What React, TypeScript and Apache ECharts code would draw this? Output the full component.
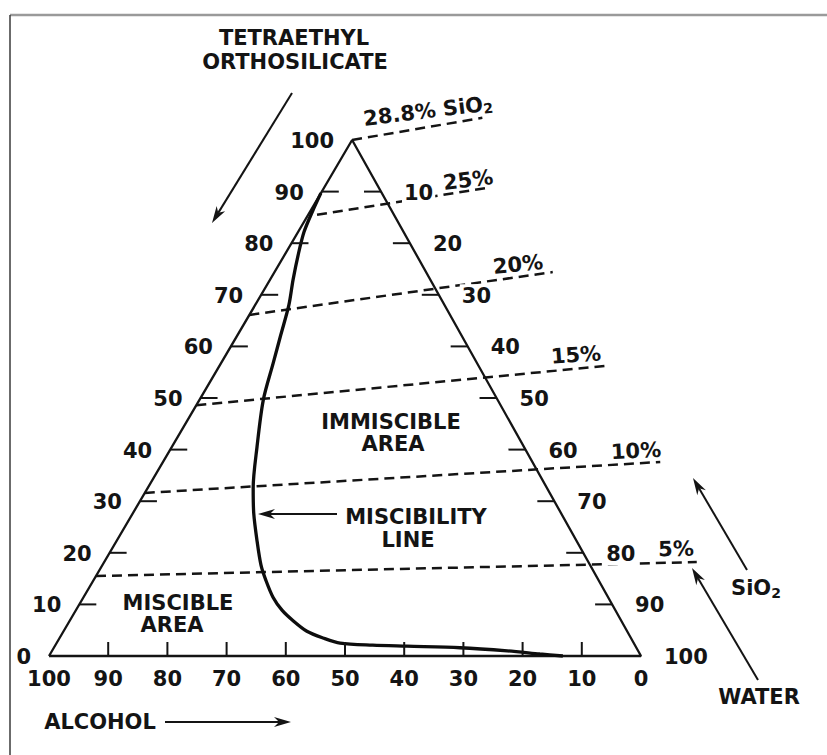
import React, { useEffect, useRef } from "react";
import * as echarts from "echarts";

// ---- scale values (percent) ----
const teosTickValues = [0, 10, 20, 30, 40, 50, 60, 70, 80, 90, 100];
const waterTickValues = [10, 20, 30, 40, 50, 60, 70, 80, 90, 100];
const alcoholTickValues = [100, 90, 80, 70, 60, 50, 40, 30, 20, 10, 0];

// ---- triangle vertices as compositions (water %, TEOS %) ----
const triangleWater = [0, 100, 0, 0];
const triangleTeos = [0, 0, 100, 0];

// ---- constant-SiO2 dashed lines (water %, TEOS %) at both ends ----
const sio2Names = ["28.8%", "25%", "20%", "15%", "10%", "5%"];
const sio2FromWater = [0, 1.5, 0, 0, 0, 0];
const sio2FromTeos = [100, 85.5, 66.1, 48.6, 31.6, 15.5];
const sio2ToWater = [19.8, 27.5, 47.0, 65.1, 84.0, 100.1];
const sio2ToTeos = [104.3, 90.7, 74.4, 56.2, 37.6, 18.2];

// ---- miscibility line (water %, TEOS %) ----
const miscibilityWater = [0, 0.4, 1.0, 2.3, 3.9, 5.7, 7.3, 8.8, 10.8, 14.4, 17.8, 20.4, 23.6, 26.8, 29.1, 32.0, 34.8, 37.8, 41.1, 44.5, 47.9, 53.6, 59.5, 68.6, 76.9, 82.7, 86.8];
const miscibilityTeos = [89.7, 86.1, 82.2, 77.7, 72.9, 68.0, 62.2, 56.8, 49.6, 40.5, 32.6, 27.7, 22.5, 17.6, 14.7, 11.4, 8.9, 6.8, 4.8, 3.5, 2.5, 2.1, 1.9, 1.6, 1.0, 0.4, 0];

// ---- layout ----
const W = 827;
const H = 755;
const ORIGIN_PX = 49;
const ORIGIN_PY = 656;
const UNIT_X = 5.92;
const UNIT_Y = 5.16;
const APEX_SHIFT = 0.512;
const INK = "#141414";
const FAMILY = '"DejaVu Sans", "Liberation Sans", sans-serif';
const FONT = `bold 21px ${FAMILY}`;

const toXY = (water: number, teos: number) => [water + APEX_SHIFT * teos, teos];

const textStyle = (text: string, align: string, extra: any = {}) => ({
  text,
  align,
  textAlign: align,
  verticalAlign: "middle",
  textVerticalAlign: "middle",
  font: FONT,
  fill: INK,
  ...extra,
});

const subRich = {
  b: { fontSize: 21, fontWeight: "bold", fontFamily: FAMILY, fill: INK, color: INK, lineHeight: 23 },
  s: { fontSize: 14, fontWeight: "bold", fontFamily: FAMILY, fill: INK, color: INK, lineHeight: 23, padding: [9, 0, 0, 0] },
};

const label = (text: string, x: number, y: number, rotDeg = 0, rich = false) => ({
  type: "text",
  x,
  y,
  rotation: (rotDeg * Math.PI) / 180,
  z: 10,
  style: rich
    ? { text, rich: subRich, align: "center", textAlign: "center", verticalAlign: "middle", textVerticalAlign: "middle", fill: INK }
    : textStyle(text, "center"),
});

const arrow = (x1: number, y1: number, x2: number, y2: number, head = 17, half = 5) => {
  const dx = x2 - x1;
  const dy = y2 - y1;
  const len = Math.hypot(dx, dy);
  const ux = dx / len;
  const uy = dy / len;
  const nx = -uy;
  const ny = ux;
  const bx = x2 - ux * head;
  const by = y2 - uy * head;
  const mx = x2 - ux * head * 0.7;
  const my = y2 - uy * head * 0.7;
  return [
    { type: "line", shape: { x1, y1, x2: mx, y2: my }, style: { stroke: INK, lineWidth: 2 } },
    {
      type: "polygon",
      shape: { points: [[x2, y2], [bx + nx * half, by + ny * half], [mx, my], [bx - nx * half, by - ny * half]] },
      style: { fill: INK },
    },
  ];
};

export default function App() {
  const ref = useRef<HTMLDivElement>(null);

  useEffect(() => {
    if (!ref.current) return;
    const chart = echarts.init(ref.current, undefined, { renderer: "svg" });

    const sio2Series = sio2Names.map((name, i) => ({
      type: "line",
      name,
      data: [toXY(sio2FromWater[i], sio2FromTeos[i]), toXY(sio2ToWater[i], sio2ToTeos[i])],
      symbol: "none",
      silent: true,
      clip: false,
      z: 3,
      lineStyle: { color: INK, width: 2.5, type: [10, 6] },
    }));

    const option: any = {
      animation: false,
      backgroundColor: "#ffffff",
      grid: { left: 0, right: 0, top: 0, bottom: 0 },
      xAxis: { type: "value", min: -ORIGIN_PX / UNIT_X, max: (W - ORIGIN_PX) / UNIT_X, show: false },
      yAxis: { type: "value", min: -(H - ORIGIN_PY) / UNIT_Y, max: ORIGIN_PY / UNIT_Y, show: false },
      series: [
        {
          type: "line",
          name: "triangle",
          data: triangleWater.map((w, i) => toXY(w, triangleTeos[i])),
          symbol: "none",
          silent: true,
          z: 4,
          lineStyle: { color: INK, width: 2.3 },
        },
        ...sio2Series,
        {
          type: "line",
          name: "miscibility",
          data: miscibilityWater.map((w, i) => toXY(w, miscibilityTeos[i])),
          symbol: "none",
          smooth: 0.3,
          silent: true,
          z: 5,
          lineStyle: { color: "#0d0d0d", width: 3.3 },
        },
        {
          type: "custom",
          name: "teosAxis",
          z: 6,
          silent: true,
          data: teosTickValues.map((v) => [v, 0]),
          renderItem: (_p: any, api: any) => {
            const t = api.value(0);
            const [px, py] = api.coord(toXY(0, t));
            const children: any[] = [];
            if (t > 0 && t < 100) {
              children.push({ type: "line", shape: { x1: px, y1: py, x2: px + 17, y2: py }, style: { stroke: INK, lineWidth: 2 } });
            }
            children.push({ type: "text", style: textStyle(String(t), "right", { x: px - 18, y: py + 1 }) });
            return { type: "group", children };
          },
        },
        {
          type: "custom",
          name: "waterAxis",
          z: 6,
          silent: true,
          data: waterTickValues.map((v) => [v, 0]),
          renderItem: (_p: any, api: any) => {
            const w = api.value(0);
            const [px, py] = api.coord(toXY(w, 100 - w));
            const children: any[] = [];
            if (w < 100) {
              children.push({ type: "line", shape: { x1: px - 17, y1: py, x2: px, y2: py }, style: { stroke: INK, lineWidth: 2 } });
            }
            children.push({
              type: "text",
              style: textStyle(String(w), "left", { x: px + 21, y: py + 1, backgroundColor: "#ffffff", padding: [1, 2, 1, 2] }),
            });
            return { type: "group", children };
          },
        },
        {
          type: "custom",
          name: "alcoholAxis",
          z: 6,
          silent: true,
          data: alcoholTickValues.map((v) => [v, 0]),
          renderItem: (_p: any, api: any) => {
            const a = api.value(0);
            const [px, py] = api.coord(toXY(100 - a, 0));
            const children: any[] = [];
            if (a > 0 && a < 100) {
              children.push({ type: "line", shape: { x1: px, y1: py, x2: px, y2: py - 14 }, style: { stroke: INK, lineWidth: 2 } });
            }
            children.push({ type: "text", style: textStyle(String(a), "center", { x: px, y: py + 23 }) });
            return { type: "group", children };
          },
        },
      ],
      graphic: [
        { type: "line", shape: { x1: 10, y1: 15, x2: W, y2: 15 }, style: { stroke: "#9a9a9a", lineWidth: 2.5 } },
        { type: "line", shape: { x1: 10, y1: 15, x2: 10, y2: H }, style: { stroke: "#3a3a3a", lineWidth: 1.5 } },
        label("TETRAETHYL", 294, 38),
        label("ORTHOSILICATE", 295, 62),
        ...arrow(292, 93, 212, 223),
        label("{b|28.8% SiO}{s|2}", 428, 111, 7, true),
        label("25%", 468, 180, 7),
        label("20%", 518, 264, 6),
        label("15%", 576, 355, 4),
        label("10%", 636, 451, 3),
        label("5%", 676, 549, 1),
        label("IMMISCIBLE", 391, 422),
        label("AREA", 393, 444),
        label("MISCIBILITY", 416, 517),
        label("LINE", 408, 540),
        ...arrow(337, 514, 258, 514),
        label("MISCIBLE", 178, 603),
        label("AREA", 172, 625),
        label("ALCOHOL", 100, 722),
        ...arrow(165, 722, 291, 722),
        label("{b|SiO}{s|2}", 756, 588, 0, true),
        ...arrow(747, 570, 693, 478),
        label("WATER", 759, 697),
        ...arrow(758, 680, 692, 568),
      ],
    };

    chart.setOption(option);
    return () => chart.dispose();
  }, []);

  return (
    <div
      ref={ref}
      style={{ position: "fixed", left: 0, top: 0, width: W, height: H, background: "#fff" }}
    />
  );
}
